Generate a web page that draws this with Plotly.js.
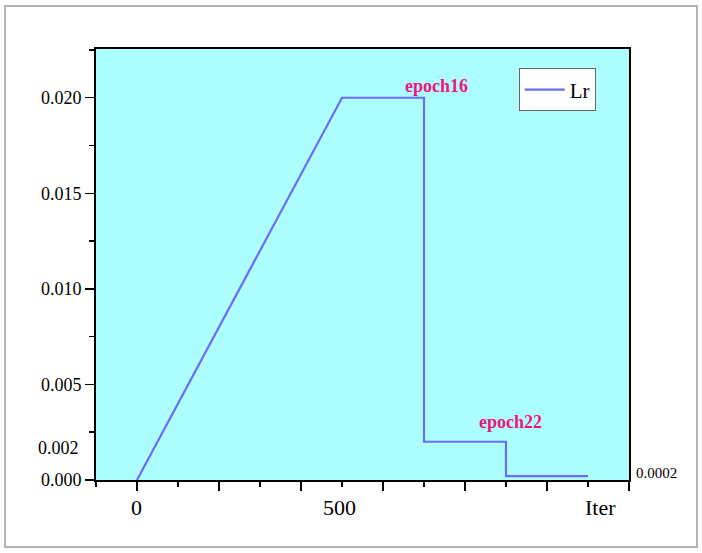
<!DOCTYPE html>
<html>
<head>
<meta charset="utf-8">
<script src="https://cdn.plot.ly/plotly-3.0.1.min.js"></script>
<style>
  html, body { margin: 0; padding: 0; background: #fff; }
  #frame { position: absolute; left: 4px; top: 5px; width: 690px; height: 539px; border: 2px solid #b4b4b4; }
  #chart { position: absolute; left: 0; top: 0; width: 702px; height: 553px; }
</style>
</head>
<body>
<div id="frame"></div>
<div id="chart"></div>
<script>
// Data
const iterX = [0, 500, 700, 700, 900, 900, 1100];
const lrY   = [0, 0.02, 0.02, 0.002, 0.002, 0.0002, 0.0002];
const seriesName = 'Lr';
const yTickVals = [0, 0.005, 0.010, 0.015, 0.020];
const yTickText = ['0.000', '0.005', '0.010', '0.015', '0.020'];
const xMajorTicks = [0, 200, 400, 600, 800, 1000, 1200];
const xLabelVals = [0, 500];
const xLabelText = ['0', '500'];
const extraYLabel = {value: 0.002, text: '0.002'};
const finalLabel = {value: 0.0002, text: '0.0002'};
const epochNotes = [
  {x: 730, y: 0.0206, text: 'epoch16'},
  {x: 910, y: 0.00305, text: 'epoch22'}
];

const serif = '"Liberation Serif", "Times New Roman", serif';

const trace = {
  x: iterX, y: lrY, name: seriesName, type: 'scatter', mode: 'lines',
  line: {color: '#6b6bff', width: 2.2}
};

const annotations = [];
xLabelVals.forEach((v, i) => annotations.push({
  x: v, y: 0, xref: 'x', yref: 'y', text: xLabelText[i], showarrow: false,
  yanchor: 'top', yshift: -13, xshift: (v === 0 ? -1 : -3),
  font: {family: serif, size: 22, color: '#000'}
}));
annotations.push({
  x: 1126, y: 0, xref: 'x', yref: 'y', text: 'Iter', showarrow: false,
  yanchor: 'top', yshift: -13, xshift: 2, font: {family: serif, size: 22, color: '#000'}
});
annotations.push({
  x: 0, xref: 'paper', y: extraYLabel.value, yref: 'y', text: extraYLabel.text,
  showarrow: false, xanchor: 'right', xshift: -15, yshift: -6,
  font: {family: serif, size: 18, color: '#000'}
});
annotations.push({
  x: 1, xref: 'paper', y: finalLabel.value, yref: 'y', text: finalLabel.text,
  showarrow: false, xanchor: 'left', xshift: 5, yshift: 3,
  font: {family: serif, size: 15, color: '#000'}
});
epochNotes.forEach(n => annotations.push({
  x: n.x, y: n.y, xref: 'x', yref: 'y', text: '<b>' + n.text + '</b>', showarrow: false,
  font: {family: serif, size: 18, color: '#f0147f'}
}));

const layout = {
  width: 702, height: 553,
  margin: {l: 96, r: 73, t: 49, b: 73},
  paper_bgcolor: 'rgba(0,0,0,0)',
  plot_bgcolor: '#adffff',
  showlegend: true,
  legend: {
    x: 0.793, y: 0.955, xanchor: 'left', yanchor: 'top',
    bgcolor: '#ffffff', bordercolor: '#666666', borderwidth: 1,
    font: {family: serif, size: 21, color: '#000'},
    itemwidth: 40, tracegroupgap: 0
  },
  xaxis: {
    range: [-100, 1200], showgrid: false, zeroline: false,
    showline: true, linecolor: '#000', linewidth: 2, mirror: true,
    ticks: 'outside', ticklen: 9, tickwidth: 1.5, tickcolor: '#000',
    tickmode: 'array', tickvals: xMajorTicks, showticklabels: false,
    minor: {tickmode: 'linear', tick0: 100, dtick: 200, ticks: 'outside', ticklen: 5, tickwidth: 1.5, tickcolor: '#000', showgrid: false}
  },
  yaxis: {
    range: [0, 0.02255], showgrid: false, zeroline: false,
    showline: true, linecolor: '#000', linewidth: 2, mirror: true,
    ticks: 'outside', ticklen: 9, tickwidth: 1.5, tickcolor: '#000',
    tickmode: 'array', tickvals: yTickVals, ticktext: yTickText,
    tickfont: {family: serif, size: 18, color: '#000'},
    minor: {tickmode: 'linear', tick0: 0.0025, dtick: 0.005, ticks: 'outside', ticklen: 5, tickwidth: 1.5, tickcolor: '#000', showgrid: false}
  },
  annotations: annotations
};

Plotly.newPlot('chart', [trace], layout, {displayModeBar: false, staticPlot: true});
</script>
</body>
</html>
